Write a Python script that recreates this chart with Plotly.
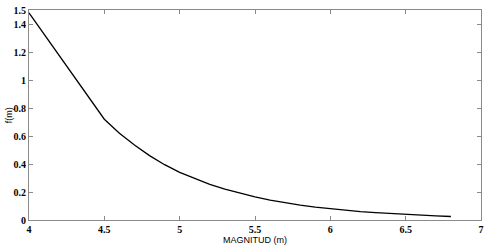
import plotly.graph_objects as go

magnitud = [4.0, 4.5, 4.6, 4.7, 4.8, 4.9, 5.0, 5.1, 5.2, 5.3, 5.4, 5.5, 5.6, 5.7,
            5.8, 5.9, 6.0, 6.1, 6.2, 6.3, 6.4, 6.5, 6.6, 6.7, 6.8]
f_m = [1.48, 0.72, 0.62, 0.535, 0.46, 0.395, 0.34, 0.295, 0.255, 0.22, 0.19, 0.165,
       0.142, 0.123, 0.106, 0.092, 0.080, 0.069, 0.060, 0.052, 0.045, 0.039, 0.033,
       0.029, 0.025]

x_ticks = [4, 4.5, 5, 5.5, 6, 6.5, 7]
x_labels = ["4", "4.5", "5", "5.5", "6", "6.5", "7"]
y_ticks = [0, 0.2, 0.4, 0.6, 0.8, 1.0, 1.2, 1.4, 1.5]
y_labels = ["0", "0.2", "0.4", "0.6", "0.8", "1", "1.2", "1.4", "1.5"]

fig = go.Figure()
fig.add_trace(go.Scatter(x=magnitud, y=f_m, mode="lines",
                         line=dict(color="black", width=1.3), showlegend=False,
                         hoverinfo="skip"))

tickfont = dict(family="Liberation Serif", size=10, color="black", weight=700)
axis_common = dict(showgrid=False, zeroline=False, showline=True, linecolor="#8a8a8a",
                   linewidth=1, mirror="ticks", ticks="inside", ticklen=4,
                   tickcolor="#8a8a8a", tickfont=tickfont, ticklabeloverflow="allow")

fig.update_layout(
    width=488, height=248,
    margin=dict(l=29, r=4, t=5, b=28),
    paper_bgcolor="white", plot_bgcolor="white",
    xaxis=dict(range=[4, 7], tickvals=x_ticks, ticktext=x_labels, **axis_common),
    yaxis=dict(range=[0, 1.5], tickvals=y_ticks, ticktext=y_labels, **axis_common),
    annotations=[
        dict(text="MAGNITUD (m)", xref="paper", yref="paper", x=0.5, y=-0.064,
             xanchor="center", yanchor="top", showarrow=False,
             font=dict(family="Liberation Sans", size=9, color="black")),
        dict(text="f(m)", xref="paper", yref="paper", x=-0.028, y=0.5,
             xanchor="right", yanchor="middle", textangle=-90, showarrow=False,
             font=dict(family="Liberation Sans", size=9, color="black")),
    ],
)

fig.write_html("out.html", config={"displayModeBar": False},
               post_script="document.body.style.margin='0';document.body.style.padding='0';")
